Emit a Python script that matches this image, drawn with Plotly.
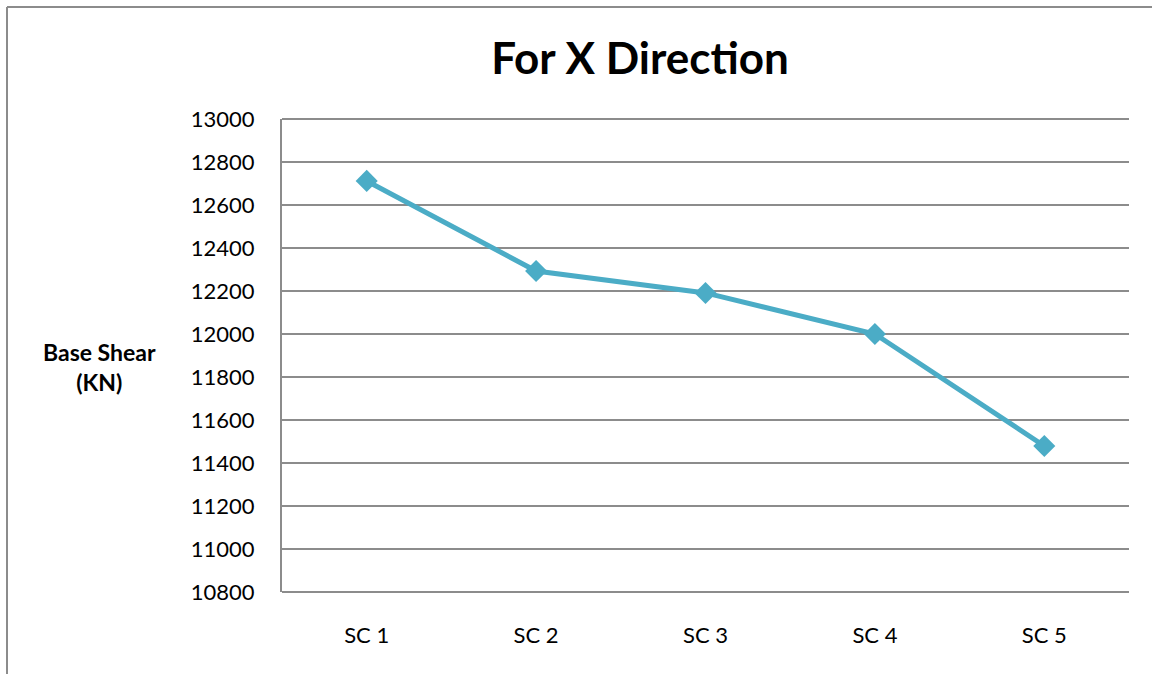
import plotly.graph_objects as go

# Base shear per scheme, X direction
schemes = ["SC 1", "SC 2", "SC 3", "SC 4", "SC 5"]
base_shear_kn = [12712, 12293, 12191, 12000, 11479]
y_ticks = [10800, 11000, 11200, 11400, 11600, 11800, 12000, 12200, 12400, 12600, 12800, 13000]

W, H = 1152, 674
ML, MR, MT, MB = 282, 23, 119, 82
pw, ph = W - ML - MR, H - MT - MB

FONT = "Lato, Open Sans, sans-serif"
LINE = "#4BACC6"
GRID = "#8C8C8C"

fig = go.Figure()
fig.add_trace(go.Scatter(
    x=schemes, y=base_shear_kn, mode="lines+markers",
    line=dict(color=LINE, width=5),
    marker=dict(symbol="diamond", size=17, color=LINE),
    showlegend=False, hoverinfo="x+y",
))

def px_x(p):
    return (p - ML) / pw

def px_y(p):
    return 1 - (p - MT) / ph

fig.update_layout(
    width=W, height=H,
    margin=dict(l=ML, r=MR, t=MT, b=MB),
    paper_bgcolor="white", plot_bgcolor="white",
    font=dict(family=FONT, color="#000000", size=22),
    title=dict(text="<b>For X Direction</b>", xref="container", x=640 / W, xanchor="center",
               yref="container", y=1 - 59 / H, yanchor="middle",
               font=dict(family=FONT, size=44, color="#000000")),
    xaxis=dict(
        type="category", range=[-0.5, 4.5],
        showgrid=False, showline=False, zeroline=False, ticks="",
        ticklabelstandoff=28, tickfont=dict(size=22, family=FONT),
    ),
    yaxis=dict(
        range=[10800, 13000], tickvals=y_ticks, ticktext=[str(v) for v in y_ticks],
        showgrid=True, gridcolor=GRID, gridwidth=2,
        showline=True, linecolor=GRID, linewidth=2, zeroline=False, ticks="",
        ticklabelstandoff=21, tickfont=dict(size=22, family=FONT),
    ),
    shapes=[
        # outer chart frame (left and top edges visible)
        dict(type="line", xref="paper", yref="paper",
             x0=px_x(7), x1=px_x(1160), y0=px_y(7), y1=px_y(7),
             line=dict(color="#8C8C8C", width=2)),
        dict(type="line", xref="paper", yref="paper",
             x0=px_x(7), x1=px_x(7), y0=px_y(7), y1=px_y(690),
             line=dict(color="#8C8C8C", width=2)),
        # top and bottom edges of the plot area
        dict(type="line", xref="paper", yref="paper",
             x0=0, x1=1, y0=1, y1=1, line=dict(color=GRID, width=2)),
        dict(type="line", xref="paper", yref="paper",
             x0=0, x1=1, y0=0, y1=0, line=dict(color=GRID, width=2)),
    ],
    annotations=[
        dict(text="<b>Base Shear<br>(KN)</b>", xref="paper", yref="paper",
             x=px_x(99), y=px_y(367), xanchor="center", yanchor="middle",
             showarrow=False, align="center",
             font=dict(family=FONT, size=23, color="#000000")),
    ],
)

fig.write_html("out.html")
